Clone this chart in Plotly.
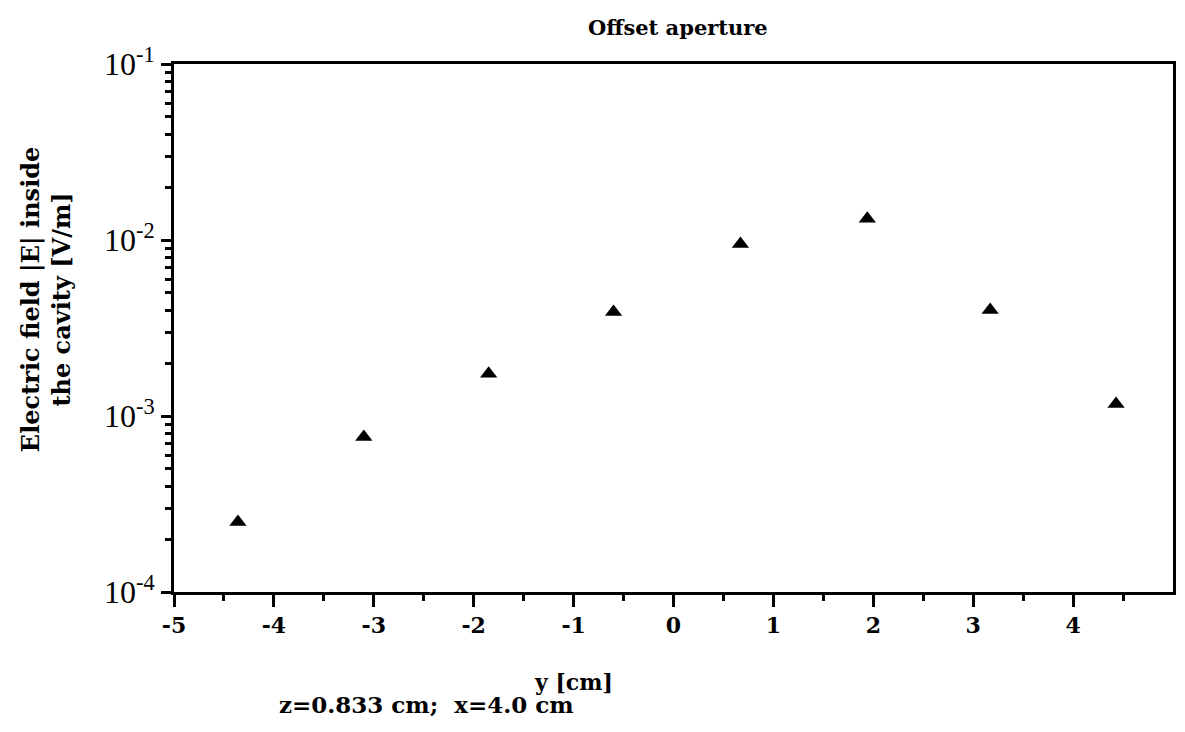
import plotly.graph_objects as go

# Data
y_pos_cm = [-4.36, -3.10, -1.85, -0.60, 0.67, 1.94, 3.17, 4.43]
e_field = [2.5e-4, 7.6e-4, 1.74e-3, 3.9e-3, 9.5e-3, 1.32e-2, 4.0e-3, 1.17e-3]

x_tick_vals = [-5, -4, -3, -2, -1, 0, 1, 2, 3, 4]
x_tick_text = ["-5", "-4", "-3", "-2", "-1", "0", "1", "2", "3", "4"]
x_minor_vals = [-4.5, -3.5, -2.5, -1.5, -0.5, 0.5, 1.5, 2.5, 3.5, 4.5]
y_tick_vals = [1e-4, 1e-3, 1e-2, 1e-1]
y_tick_text = ["10<sup>-4</sup>", "10<sup>-3</sup>", "10<sup>-2</sup>", "10<sup>-1</sup>"]
y_minor_vals = [k * 10.0 ** e for e in (-4, -3, -2) for k in range(2, 10)]

title_text = "<b>Offset aperture</b>"
x_title = "<b>y [cm]</b>"
y_title = "<b>Electric field |E| inside<br>the cavity [V/m]</b>"
note_text = "<b>z=0.833 cm;&nbsp; x=4.0 cm</b>"

serif = "Liberation Serif, Times New Roman, serif"
heavy = "DejaVu Serif, serif"

fig = go.Figure()
fig.add_trace(go.Scatter(
    x=y_pos_cm, y=e_field, mode="markers",
    marker=dict(symbol="triangle-up", size=15, color="black"),
    showlegend=False,
))

fig.update_layout(
    width=1185, height=732,
    margin=dict(l=174, r=9, t=64, b=140),
    paper_bgcolor="white", plot_bgcolor="white",
    font=dict(family=serif, color="black"),
    title=dict(text=title_text, x=0.572, xanchor="center", y=0.962, yanchor="middle",
               font=dict(size=21, family=heavy, color="black")),
    xaxis=dict(
        range=[-5, 5], tickmode="array", tickvals=x_tick_vals, ticktext=x_tick_text,
        ticks="outside", ticklen=12, tickwidth=3, tickcolor="black",
        minor=dict(tickmode="array", tickvals=x_minor_vals, ticks="outside",
                   ticklen=6, tickwidth=3, tickcolor="black"),
        showline=True, linewidth=3, linecolor="black", mirror=True,
        showgrid=False, zeroline=False,
        tickfont=dict(size=22, family=heavy, color="black", weight="bold"),
    ),
    yaxis=dict(
        type="log", range=[-4, -1], tickmode="array", tickvals=y_tick_vals, ticktext=y_tick_text,
        ticks="outside", ticklen=10, tickwidth=3, tickcolor="black",
        minor=dict(tickmode="array", tickvals=y_minor_vals, ticks="outside",
                   ticklen=6, tickwidth=3, tickcolor="black"),
        showline=True, linewidth=3, linecolor="black", mirror=True,
        showgrid=False, zeroline=False,
        tickfont=dict(size=32, family=serif, color="black"),
    ),
    annotations=[
        dict(text=y_title, xref="paper", yref="paper", x=-0.128, y=0.553,
             xanchor="center", yanchor="middle", textangle=-90, showarrow=False,
             font=dict(size=24, family=heavy, color="black")),
        dict(text=x_title, xref="paper", yref="paper", x=0.400, y=-0.170,
             xanchor="center", yanchor="middle", showarrow=False,
             font=dict(size=22, family=heavy, color="black")),
        dict(text=note_text, xref="paper", yref="paper", x=0.2525, y=-0.214,
             xanchor="center", yanchor="middle", showarrow=False,
             font=dict(size=23, family=heavy, color="black")),
    ],
)

fig.write_html("out.html")
